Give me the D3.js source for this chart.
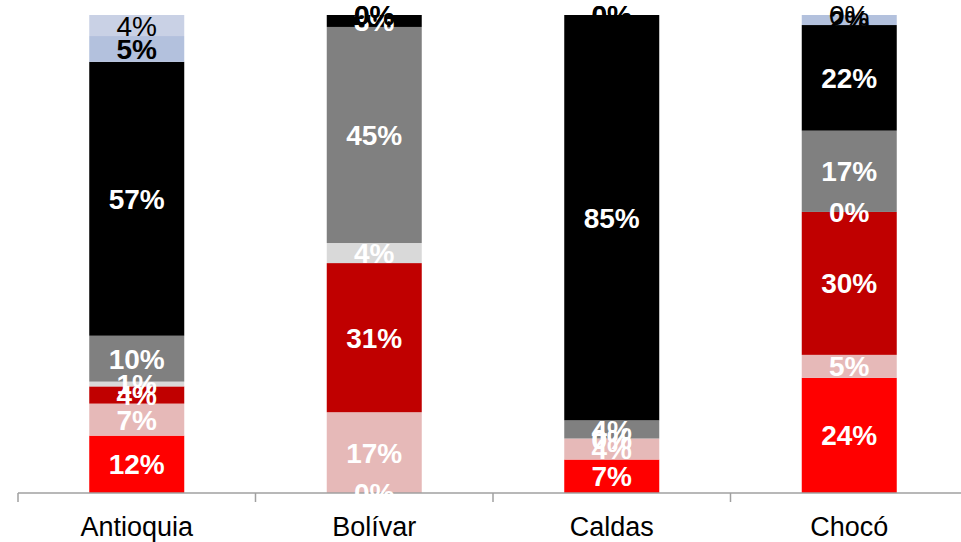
<!DOCTYPE html>
<html>
<head>
<meta charset="utf-8">
<script src="https://cdn.jsdelivr.net/npm/d3@7/dist/d3.min.js"></script>
<style>
  html, body { margin: 0; padding: 0; background: #ffffff; }
  svg { display: block; }
</style>
</head>
<body>
<svg id="chart" width="961" height="542"></svg>
<script>
// ---- data ----
const categories = ["Antioquia", "Bolívar", "Caldas", "Chocó"];
const seriesNames = ["s1", "s2", "s3", "s4", "s5", "s6", "s7", "s8"];
const s1 = [12.0, 0.0, 7.0, 24.1];
const s2 = [6.7, 16.9, 4.4, 4.8];
const s3 = [3.6, 31.2, 0.0, 29.9];
const s4 = [1.0, 4.2, 0.0, 0.0];
const s5 = [9.6, 45.2, 3.8, 17.0];
const s6 = [57.3, 2.5, 84.8, 22.1];
const s7 = [5.4, 0.0, 0.0, 2.1];
const s8 = [4.4, 0.0, 0.0, 0.0];
const seriesValues = [s1, s2, s3, s4, s5, s6, s7, s8];
const colors = ["#FF0000", "#E6B9B8", "#C00000", "#D9D9D9", "#808080", "#000000", "#B3C1DD", "#C9D1E5"];
const labelColors = ["#fff", "#fff", "#fff", "#fff", "#fff", "#fff", "#000", "#000"];
const labelWeights = ["bold", "bold", "bold", "bold", "bold", "bold", "bold", "normal"];

// ---- layout ----
const svg = d3.select("#chart");
const x = d3.scaleBand().domain(categories).range([18, 968]).paddingInner(0.6).paddingOuter(0.3);
const y = d3.scaleLinear().domain([0, 100]).range([493, 15]);

const table = categories.map((c, i) => {
  const row = { cat: c };
  seriesNames.forEach((s, j) => row[s] = seriesValues[j][i]);
  return row;
});
const stacked = d3.stack().keys(seriesNames)(table);

// bars
const layers = svg.append("g").selectAll("g").data(stacked).join("g")
  .attr("fill", (d, i) => colors[i]);
layers.selectAll("rect").data(d => d).join("rect")
  .attr("x", d => x(d.data.cat))
  .attr("width", x.bandwidth())
  .attr("y", d => y(d[1]))
  .attr("height", d => y(d[0]) - y(d[1]));

// axis
const ax = svg.append("g");
ax.append("line")
  .attr("x1", x.range()[0]).attr("x2", 961)
  .attr("y1", y(0)).attr("y2", y(0))
  .attr("stroke", "#a0a0a0").attr("stroke-width", 1.5);
d3.range(categories.length + 1).forEach(i => {
  const xp = x.range()[0] + i * x.step();
  ax.append("line")
    .attr("x1", xp).attr("x2", xp)
    .attr("y1", y(0)).attr("y2", y(0) + 9)
    .attr("stroke", "#a0a0a0").attr("stroke-width", 1.5);
});
ax.selectAll("text.cat").data(categories).join("text")
  .attr("class", "cat")
  .attr("x", d => x(d) + x.bandwidth() / 2)
  .attr("y", 536)
  .attr("text-anchor", "middle")
  .attr("font-family", "Liberation Sans, Arial, sans-serif")
  .attr("font-size", 27)
  .attr("fill", "#000")
  .text(d => d);

// labels
const lbl = svg.append("g");
stacked.forEach((layer, i) => {
  lbl.selectAll(null).data(layer).join("text")
    .attr("x", d => x(d.data.cat) + x.bandwidth() / 2)
    .attr("y", d => (y(d[0]) + y(d[1])) / 2)
    .attr("dy", "0.36em")
    .attr("text-anchor", "middle")
    .attr("font-family", "Liberation Sans, Arial, sans-serif")
    .attr("font-size", 28)
    .attr("font-weight", labelWeights[i])
    .attr("fill", labelColors[i])
    .text(d => Math.round(d[1] - d[0]) + "%");
});
</script>
</body>
</html>
